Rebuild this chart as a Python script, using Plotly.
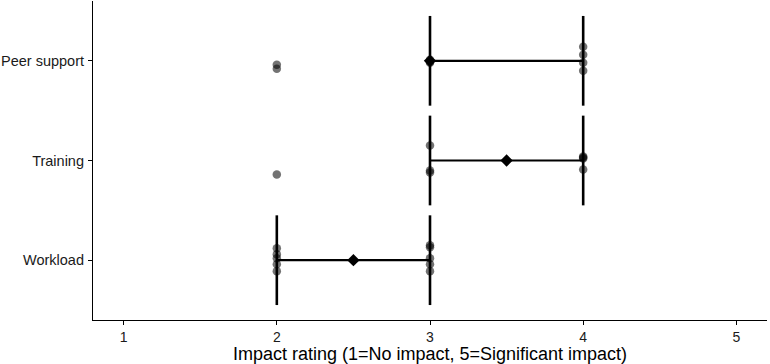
import plotly.graph_objects as go

categories = ["Workload", "Training", "Peer support"]
cat_pos = [1, 2, 3]

# Individual ratings (x) with the vertical jitter (in category units)
pt_cat = (["Peer support"] * 9 + ["Training"] * 8 + ["Workload"] * 10)
pt_rating = ([2, 2, 3, 3, 3, 4, 4, 4, 4] +
             [2, 3, 3, 3, 4, 4, 4, 4] +
             [2, 2, 2, 2, 2, 3, 3, 3, 3, 3])
pt_jitter = ([-0.04, -0.08, 0.01, -0.01, -0.02, 0.14, 0.06, -0.02, -0.10] +
             [-0.14, 0.15, -0.10, -0.12, 0.04, 0.03, 0.02, -0.09] +
             [0.12, 0.06, 0.02, -0.04, -0.11, 0.15, 0.13, 0.02, -0.04, -0.11])

# Summary: interquartile range and median per category
sum_cat = ["Workload", "Training", "Peer support"]
sum_low = [2, 3, 3]
sum_mid = [2.5, 3.5, 3]
sum_high = [3, 4, 4]
cap_half = 0.45

x_ticks = [1, 2, 3, 4, 5]

pos = dict(zip(categories, cat_pos))

fig = go.Figure()

# horizontal bars
hx, hy = [], []
for c, lo, hi in zip(sum_cat, sum_low, sum_high):
    hx += [lo, hi, None]
    hy += [pos[c], pos[c], None]
fig.add_trace(go.Scatter(x=hx, y=hy, mode="lines", line=dict(color="black", width=2.2),
                         hoverinfo="skip", showlegend=False))
# caps
cx, cy = [], []
for c, lo, hi in zip(sum_cat, sum_low, sum_high):
    for v in (lo, hi):
        cx += [v, v, None]
        cy += [pos[c] - cap_half, pos[c] + cap_half, None]
fig.add_trace(go.Scatter(x=cx, y=cy, mode="lines", line=dict(color="black", width=2.6),
                         hoverinfo="skip", showlegend=False))

# points
fig.add_trace(go.Scatter(
    x=pt_rating,
    y=[pos[c] + j for c, j in zip(pt_cat, pt_jitter)],
    mode="markers",
    marker=dict(color="rgba(0,0,0,0.55)", size=8.5, line=dict(width=0)),
    showlegend=False))

# median diamonds
fig.add_trace(go.Scatter(
    x=sum_mid, y=[pos[c] for c in sum_cat], mode="markers",
    marker=dict(symbol="diamond", color="black", size=9.5, line=dict(width=0)),
    showlegend=False))

fig.update_layout(
    width=770, height=364,
    margin=dict(l=91, r=3, t=1, b=44),
    plot_bgcolor="white", paper_bgcolor="white",
    font=dict(family="Liberation Sans, Arial, sans-serif", color="black"),
    xaxis=dict(range=[0.8, 5.2], tickvals=x_ticks, ticktext=[str(t) for t in x_ticks],
               showgrid=False, zeroline=False, showline=True, linecolor="black",
               linewidth=1.2, ticks="outside", ticklen=4, tickcolor="black",
               tickfont=dict(size=14, color="#1a1a1a"),
               title=dict(text="Impact rating (1=No impact, 5=Significant impact)",
                          font=dict(size=18, color="black"), standoff=2)),
    yaxis=dict(range=[0.4, 3.6], tickvals=cat_pos, ticktext=categories,
               showgrid=False, zeroline=False, showline=True, linecolor="black",
               linewidth=1.2, ticks="outside", ticklen=4, tickcolor="black",
               ticklabelstandoff=1,
               tickfont=dict(size=14.5, color="#1a1a1a")),
)

fig.write_html("out.html")
